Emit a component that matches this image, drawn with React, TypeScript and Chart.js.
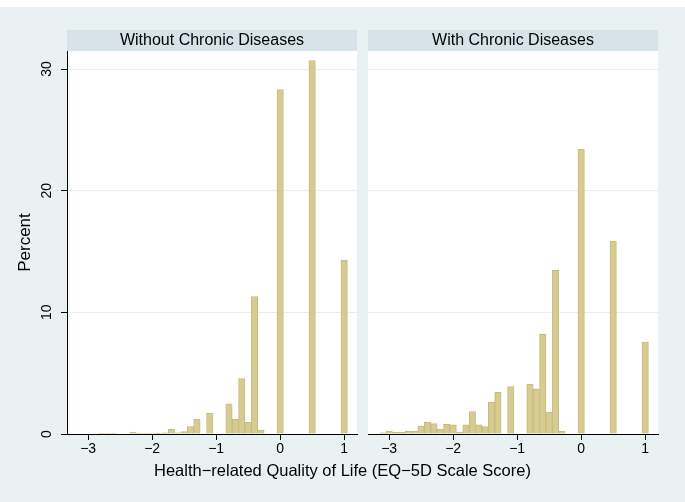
import React, { useEffect, useRef } from 'react';
import { Chart, registerables } from 'chart.js';

Chart.register(...registerables);

// ---------- data ----------
const panelTitles = ['Without Chronic Diseases', 'With Chronic Diseases'];
const xTitle = 'Health\u2212related Quality of Life (EQ\u22125D Scale Score)';
const yTitle = 'Percent';
const xTickValues = [-3, -2, -1, 0, 1];
const yTickValues = [0, 10, 20, 30];

// Without chronic diseases: bin centres and percent
const withoutX = [-2.8, -2.7, -2.6, -2.3, -2.2, -2.1, -2.0, -1.9, -1.8, -1.7, -1.6, -1.5, -1.4, -1.3, -1.1, -0.8, -0.7, -0.6, -0.5, -0.4, -0.3, 0.0, 0.5, 1.0];
const withoutPct = [0.05, 0.05, 0.03, 0.16, 0.05, 0.05, 0.05, 0.05, 0.1, 0.38, 0.1, 0.19, 0.6, 1.22, 1.72, 2.47, 1.23, 4.55, 0.95, 11.3, 0.33, 28.3, 30.7, 14.3];

// With chronic diseases: bin centres and percent
const withX = [-3.1, -3.0, -2.9, -2.8, -2.7, -2.6, -2.5, -2.4, -2.3, -2.2, -2.1, -2.0, -1.9, -1.8, -1.7, -1.6, -1.5, -1.4, -1.3, -1.1, -0.8, -0.7, -0.6, -0.5, -0.4, -0.3, 0.0, 0.5, 1.0];
const withPct = [0.1, 0.25, 0.13, 0.13, 0.25, 0.25, 0.66, 0.98, 0.85, 0.4, 0.8, 0.76, 0.14, 0.76, 1.85, 0.76, 0.62, 2.62, 3.42, 3.9, 4.1, 3.72, 8.2, 1.8, 13.45, 0.25, 23.4, 15.85, 7.55];

const X_MIN = -3.33;
const X_MAX = 1.2;
const Y_MAX = 31.48;

// ---------- styles ----------
const FONT = "'Liberation Sans', Arial, Helvetica, sans-serif";
const BG = '#eaf1f3';
const STRIP = '#d7e3e8';
const GRID = '#e6eef0';
const BAR_FILL = '#d6cc92';
const BAR_EDGE = '#c6ba7a';

const panelBg = {
  id: 'panelBg',
  beforeDraw(chart: any) {
    const { ctx, chartArea: a } = chart;
    ctx.save();
    ctx.fillStyle = '#ffffff';
    ctx.fillRect(a.left, a.top, a.right - a.left, a.bottom - a.top);
    const tb = chart.titleBlock;
    if (tb) {
      ctx.fillStyle = STRIP;
      ctx.fillRect(a.left, tb.top, a.right - a.left, tb.height);
    }
    ctx.restore();
  },
};

const fmtTick = (v: number) => (v < 0 ? '\u2212' + Math.abs(v) : String(v));

function makeConfig(title: string, xs: number[], ys: number[], showY: boolean, padLeft: number, padRight: number): any {
  return {
    type: 'bar',
    data: {
      datasets: [
        {
          data: xs.map((x, i) => ({ x, y: ys[i] })),
          backgroundColor: BAR_FILL,
          borderColor: BAR_EDGE,
          borderWidth: 1,
          barPercentage: 1,
          categoryPercentage: 1,
        },
      ],
    },
    options: {
      responsive: false,
      animation: false,
      layout: { padding: { top: 30, left: padLeft, right: padRight, bottom: 0 } },
      plugins: {
        legend: { display: false },
        tooltip: { enabled: false },
        title: {
          display: true,
          text: title,
          fullSize: false,
          color: '#000',
          font: { family: FONT, size: 16, weight: 'normal', lineHeight: 1.25 },
          padding: { top: 1, bottom: 0 },
        },
      },
      scales: {
        x: {
          type: 'linear',
          offset: false,
          min: X_MIN,
          max: X_MAX,
          afterBuildTicks: (s: any) => {
            s.ticks = xTickValues.map((v) => ({ value: v }));
          },
          afterFit: (s: any) => {
            s.height = 68;
          },
          border: { display: true, color: '#000', width: 1 },
          grid: { display: true, offset: false, drawOnChartArea: false, drawTicks: true, tickLength: 6, tickColor: '#000', color: '#000' },
          ticks: {
            color: '#000',
            font: { family: FONT, size: 14 },
            padding: 1,
            maxRotation: 0,
            autoSkip: false,
            callback: (v: any) => fmtTick(Number(v)),
          },
        },
        y: {
          type: 'linear',
          min: 0,
          max: Y_MAX,
          afterBuildTicks: (s: any) => {
            s.ticks = yTickValues.map((v) => ({ value: v }));
          },
          afterFit: (s: any) => {
            s.width = showY ? 67 : 0;
          },
          border: { display: showY, color: '#000', width: 1 },
          grid: {
            display: true,
            color: (c: any) => (c.tick && c.tick.value === 0 ? 'rgba(0,0,0,0)' : GRID),
            lineWidth: 1,
            drawTicks: showY,
            tickLength: 6,
            tickColor: '#000',
          },
          ticks: {
            display: showY,
            color: '#000',
            font: { family: FONT, size: 14 },
            minRotation: 90,
            maxRotation: 90,
            crossAlign: 'center',
            padding: 6,
            callback: (v: any) => fmtTick(Number(v)),
          },
          title: {
            display: showY,
            text: yTitle,
            color: '#000',
            font: { family: FONT, size: 17 },
            padding: { top: 15, bottom: 0 },
          },
        },
      },
    },
    plugins: [panelBg],
  };
}

function Panel(props: { title: string; xs: number[]; ys: number[]; showY: boolean; left: number; width: number; padLeft: number; padRight: number }) {
  const ref = useRef<HTMLCanvasElement | null>(null);
  useEffect(() => {
    if (!ref.current) return;
    const chart = new Chart(ref.current, makeConfig(props.title, props.xs, props.ys, props.showY, props.padLeft, props.padRight));
    return () => chart.destroy();
  }, []);
  return (
    <canvas
      ref={ref}
      width={props.width}
      height={502}
      style={{ position: 'absolute', left: props.left, top: 0, width: props.width, height: 502 }}
    />
  );
}

export default function App() {
  return (
    <div
      style={{
        position: 'absolute',
        left: 0,
        top: 0,
        width: 685,
        height: 502,
        overflow: 'hidden',
        background: `linear-gradient(#ffffff 0px, #ffffff 7px, ${BG} 7px, ${BG} 100%)`,
      }}
    >
      <Panel title={panelTitles[0]} xs={withoutX} ys={withoutPct} showY={true} left={0} width={362} padLeft={0} padRight={5} />
      <Panel title={panelTitles[1]} xs={withX} ys={withPct} showY={false} left={362} width={323} padLeft={6} padRight={27} />
      <div
        style={{
          position: 'absolute',
          left: 0,
          top: 460,
          width: 685,
          textAlign: 'center',
          fontFamily: FONT,
          fontSize: 16.5,
          lineHeight: '20px',
          color: '#000',
        }}
      >
        {xTitle}
      </div>
    </div>
  );
}
